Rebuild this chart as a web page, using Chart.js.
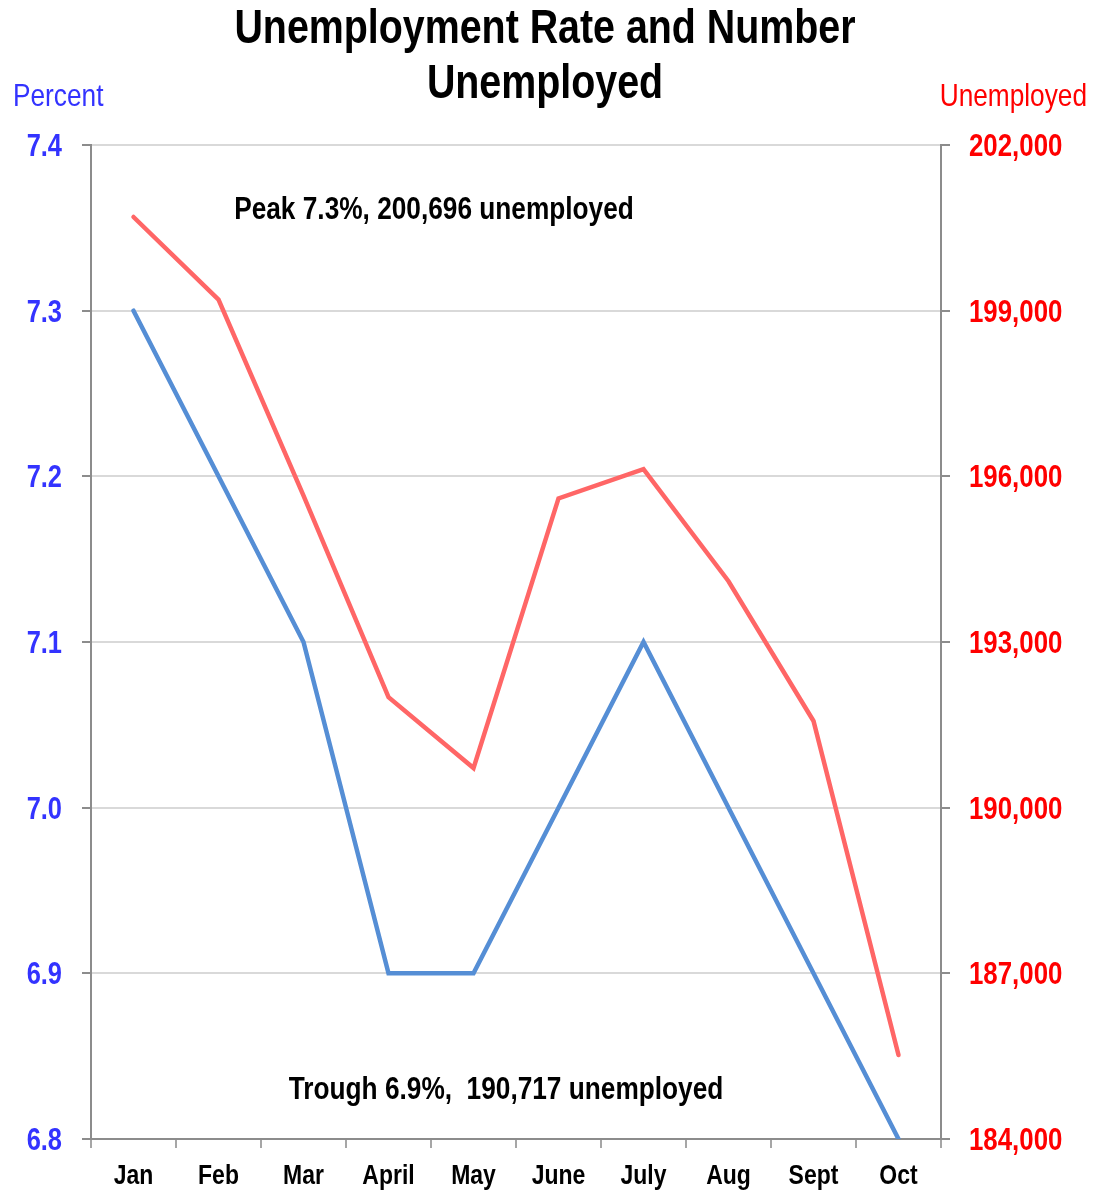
<!DOCTYPE html>
<html>
<head>
<meta charset="utf-8">
<title>Unemployment Rate and Number Unemployed</title>
<script src="https://cdn.jsdelivr.net/npm/chart.js@4.4.1/dist/chart.umd.min.js"></script>
<style>
    html, body { margin: 0; padding: 0; background: #ffffff; }
    #wrap { position: relative; width: 1105px; height: 1191px; }
</style>
</head>
<body>
<div id="wrap"><canvas id="chart" width="1105" height="1191"></canvas></div>
<script>
// chart data
let months = ["Jan", "Feb", "Mar", "April", "May", "June", "July", "Aug", "Sept", "Oct"];
let ratePct = [7.3, 7.2, 7.1, 6.9, 6.9, 7.0, 7.1, 7.0, 6.9, 6.8]; // left axis, percent
let numUnemployed = [200696, 199200, 195650, 192000, 190717, 195600, 196130, 194100, 191570, 185520]; // right axis
let rateTicks = [6.8, 6.9, 7.0, 7.1, 7.2, 7.3, 7.4];
let countTicks = [184000, 187000, 190000, 193000, 196000, 199000, 202000];

let titleLines = ["Unemployment Rate and Number", "Unemployed"];
let leftAxisTitle = "Percent";
let rightAxisTitle = "Unemployed";
let peakNote = "Peak 7.3%, 200,696 unemployed";
let troughNote = "Trough 6.9%,  190,717 unemployed";

// no Arial Narrow here, so Arial-metric Liberation Sans squeezed sideways
const FONT = "'Liberation Sans', Arial, sans-serif";
const SQUEEZE = 0.82;
const BLUE_TXT = "#3333ff";
const RED_TXT = "#ff0000";
const AXIS_GRAY = "#8c8c8c";

function narrowText(ctx, text, x, y, align, font, color) {
    ctx.save();
    ctx.translate(x, y);
    ctx.scale(SQUEEZE, 1);
    ctx.font = font;
    ctx.fillStyle = color;
    ctx.textAlign = align;
    ctx.textBaseline = "alphabetic";
    ctx.fillText(text, 0, 0);
    ctx.restore();
}

// draws the titles, notes and all tick labels
const textPlugin = {
    id: "texts",
    afterDraw(chart) {
        let ctx = chart.ctx;
        let sx = chart.scales.x;
        let sl = chart.scales.yRate;
        let sr = chart.scales.yCount;

        narrowText(ctx, titleLines[0], 545, 43, "center", "bold 48px " + FONT, "#000");
        narrowText(ctx, titleLines[1], 545, 98, "center", "bold 48px " + FONT, "#000");

        narrowText(ctx, leftAxisTitle, 13, 106, "left", "32px " + FONT, BLUE_TXT);
        narrowText(ctx, rightAxisTitle, 1087, 106, "right", "32px " + FONT, RED_TXT);

        narrowText(ctx, peakNote, 434, 219, "center", "bold 32px " + FONT, "#000");
        narrowText(ctx, troughNote, 506, 1099, "center", "bold 32px " + FONT, "#000");

        // left axis labels
        rateTicks.forEach(v => {
            let y = sl.getPixelForValue(v);
            narrowText(ctx, v.toFixed(1), 62, y + 11, "right", "bold 31px " + FONT, BLUE_TXT);
        });
        // right axis labels
        countTicks.forEach(v => {
            let y = sr.getPixelForValue(v);
            narrowText(ctx, v.toLocaleString("en-US"), 969, y + 11, "left", "bold 31.5px " + FONT, RED_TXT);
        });
        // month labels
        months.forEach((m, i) => {
            let x = sx.getPixelForValue(i);
            narrowText(ctx, m, x, 1184, "center", "bold 28px " + FONT, "#000");
        });
    }
};

let ctx = document.getElementById("chart").getContext("2d");

new Chart(ctx, {
    type: "line",
    data: {
        labels: months,
        datasets: [
            {
                label: "Unemployment rate",
                data: ratePct,
                yAxisID: "yRate",
                borderColor: "#558ed5",
                borderWidth: 4.5,
                borderCapStyle: "round",
                pointRadius: 0,
                tension: 0,
                fill: false
            },
            {
                label: "Number unemployed",
                data: numUnemployed,
                yAxisID: "yCount",
                borderColor: "#ff6666",
                borderWidth: 4.5,
                borderCapStyle: "round",
                pointRadius: 0,
                tension: 0,
                fill: false
            }
        ]
    },
    options: {
        responsive: false,
        animation: false,
        layout: { padding: { top: 145, left: 0, right: 0, bottom: 0 } },
        plugins: {
            legend: { display: false },
            title: { display: false },
            tooltip: { enabled: false }
        },
        scales: {
            x: {
                offset: true,
                grid: {
                    offset: true,
                    drawOnChartArea: false,
                    tickLength: 9,
                    tickColor: "#a6a6a6",
                    lineWidth: 2
                },
                border: { color: AXIS_GRAY, width: 2 },
                ticks: { display: false, autoSkip: false },
                afterFit: (scale) => { scale.height = 52; }
            },
            yRate: {
                position: "left",
                min: 6.8,
                max: 7.4,
                afterBuildTicks: (scale) => { scale.ticks = rateTicks.map(v => ({ value: v })); },
                grid: {
                    color: "#d9d9d9",
                    lineWidth: 2,
                    tickLength: 9,
                    tickColor: AXIS_GRAY
                },
                border: { color: AXIS_GRAY, width: 2 },
                ticks: { display: false },
                afterFit: (scale) => { scale.width = 91; }
            },
            yCount: {
                position: "right",
                min: 184000,
                max: 202000,
                afterBuildTicks: (scale) => { scale.ticks = countTicks.map(v => ({ value: v })); },
                grid: {
                    drawOnChartArea: false,
                    tickLength: 9,
                    tickColor: AXIS_GRAY,
                    lineWidth: 2
                },
                border: { color: AXIS_GRAY, width: 2 },
                ticks: { display: false },
                afterFit: (scale) => { scale.width = 164; }
            }
        }
    },
    plugins: [textPlugin]
});
</script>
</body>
</html>
